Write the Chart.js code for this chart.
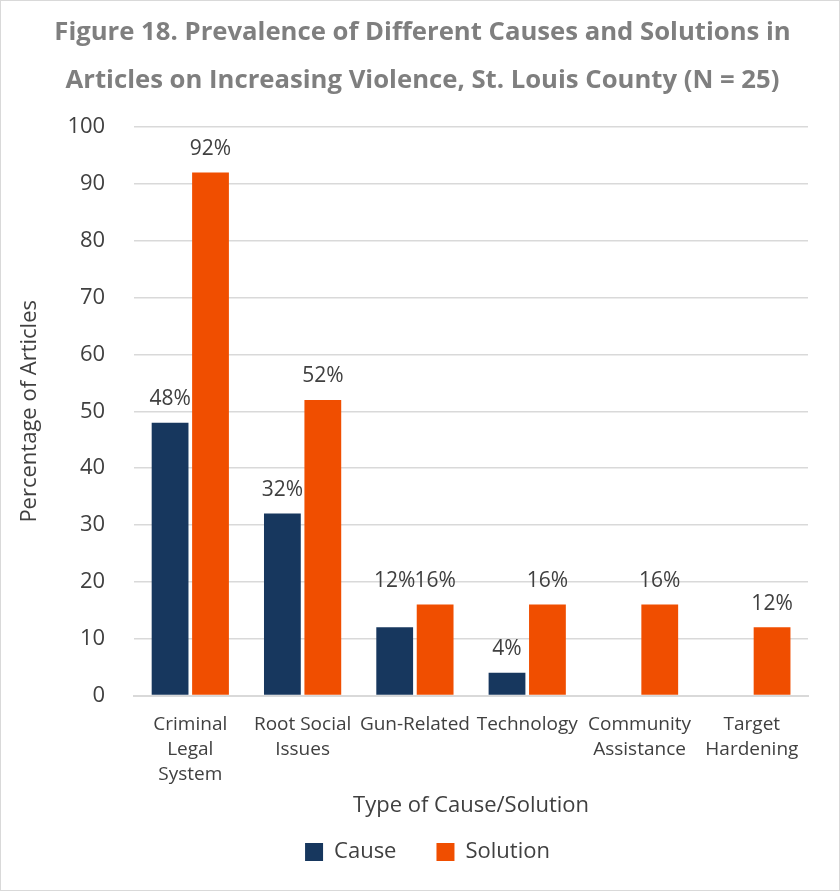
<!DOCTYPE html>
<html>
<head>
<meta charset="utf-8">
<script src="https://cdn.jsdelivr.net/npm/chart.js@4"></script>
<style>
    html, body { margin: 0; padding: 0; background: #fff; }
    .wrap { width: 838px; height: 889px; border: 1px solid #d9d9d9; }
</style>
</head>
<body>
<div class="wrap"><canvas id="myChart" width="838" height="889"></canvas></div>
<script>
const categories = [
    ["Criminal", "Legal", "System"],
    ["Root Social", "Issues"],
    "Gun-Related",
    "Technology",
    ["Community", "Assistance"],
    ["Target", "Hardening"],
];
const causeValues = [48, 32, 12, 4, 0, 0];
const solutionValues = [92, 52, 16, 16, 16, 12];
const yTicks = [0, 10, 20, 30, 40, 50, 60, 70, 80, 90, 100];

const FONT = "'Open Sans', sans-serif";
const TEXT = "#404040";

// draws "48%" above each non-zero bar; labels that sit close to
// their neighbour in the same group are lifted to the same line
const barLabels = {
    id: "barLabels",
    afterDatasetsDraw(chart) {
        const { ctx } = chart;
        const metas = chart.data.datasets.map((ds, i) => chart.getDatasetMeta(i));
        ctx.save();
        ctx.font = "21px " + FONT;
        ctx.fillStyle = TEXT;
        ctx.textAlign = "center";
        ctx.textBaseline = "bottom";
        chart.data.datasets.forEach((ds, i) => {
            metas[i].data.forEach((bar, j) => {
                if (!ds.data[j]) return;
                let y = bar.y;
                metas.forEach((m, k) => {
                    const other = m.data[j];
                    if (k !== i && chart.data.datasets[k].data[j] && Math.abs(other.y - y) < 30) {
                        y = Math.min(y, other.y);
                    }
                });
                ctx.fillText(ds.data[j] + "%", bar.x, y - 13);
            });
        });
        ctx.restore();
    },
};

// title and legend sit a little right of centre in the figure
const centreShift = {
    id: "centreShift",
    afterLayout(chart) {
        chart.titleBlock.left += 12;
        chart.titleBlock.right += 12;
        chart.legend.left += 17;
        chart.legend.right += 17;
    },
};

const printChart = () => {
    const ctx = document.getElementById("myChart").getContext("2d");
    new Chart(ctx, {
        type: "bar",
        data: {
            labels: categories,
            datasets: [
                { label: "Cause", data: causeValues, backgroundColor: "#17375e" },
                { label: "Solution", data: solutionValues, backgroundColor: "#f04e00" },
            ],
        },
        options: {
            responsive: false,
            animation: false,
            layout: { padding: { left: 12, right: 31, top: 0, bottom: 17 } },
            datasets: { bar: { categoryPercentage: 0.72, barPercentage: 0.91 } },
            plugins: {
                title: {
                    display: true,
                    text: [
                        "Figure 18. Prevalence of Different Causes and Solutions in",
                        "Articles on Increasing Violence, St. Louis County (N = 25)",
                    ],
                    color: "#7f7f7f",
                    font: { family: FONT, size: 25.7, weight: "bold", lineHeight: 1.87 },
                    padding: { top: 8, bottom: 22 },
                },
                legend: {
                    position: "bottom",
                    labels: {
                        color: TEXT,
                        font: { family: FONT, size: 22 },
                        boxWidth: 18,
                        boxHeight: 18,
                        padding: 40,
                    },
                },
                tooltip: { enabled: false },
            },
            scales: {
                y: {
                    min: 0,
                    max: 100,
                    afterBuildTicks: axis => {
                        axis.ticks = yTicks.map(v => ({ value: v }));
                    },
                    ticks: { color: TEXT, font: { family: FONT, size: 22 }, padding: 29 },
                    grid: { color: "#d9d9d9", lineWidth: 1.5, drawTicks: false },
                    border: { display: false },
                    title: {
                        display: true,
                        text: "Percentage of Articles",
                        color: TEXT,
                        font: { family: FONT, size: 22 },
                        padding: { top: 4, bottom: -5 },
                    },
                },
                x: {
                    ticks: {
                        color: TEXT,
                        font: { family: FONT, size: 19, lineHeight: 1.3 },
                        maxRotation: 0,
                        autoSkip: false,
                        padding: 9,
                    },
                    grid: { display: false },
                    border: { color: "#d9d9d9", width: 2 },
                    title: {
                        display: true,
                        text: "Type of Cause/Solution",
                        color: TEXT,
                        font: { family: FONT, size: 22 },
                        padding: { top: -3, bottom: -18 },
                    },
                },
            },
        },
        plugins: [barLabels, centreShift],
    });
};

printChart();
</script>
</body>
</html>
